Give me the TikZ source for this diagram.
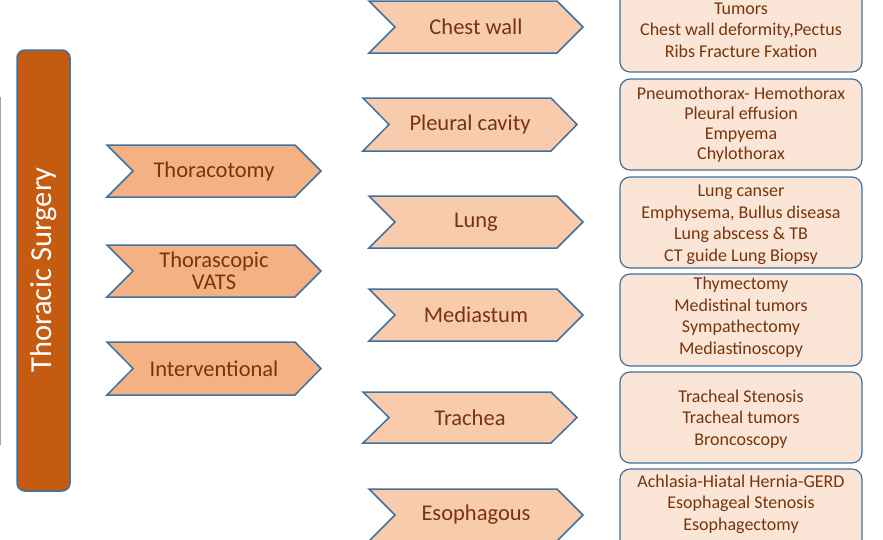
\documentclass[tikz,border=0pt]{standalone}
\usepackage{fontspec}
\setmainfont{Carlito}
\definecolor{bordc}{RGB}{65,113,156}
\definecolor{barc}{RGB}{197,90,17}
\definecolor{chevA}{RGB}{244,177,131}
\definecolor{chevB}{RGB}{248,203,173}
\definecolor{boxc}{RGB}{251,229,214}
\definecolor{txtc}{RGB}{120,52,12}
\newcommand{\chevshape}[6]{%
  % #1 name, #2 left x, #3 top y, #4 bottom y, #5 fill, #6 text
  \draw[chevline, fill=#5] (#2,#3) -- ({#2+188},#3) -- ({#2+214},{(#3+#4)/2}) -- ({#2+188},#4) -- (#2,#4) -- ({#2+26},{(#3+#4)/2}) -- cycle;
  \node[chevtext] (#1) at ({#2+107},{(#3+#4)/2}) {#6};}
\begin{document}
\begin{tikzpicture}[x=1pt,y=-1pt,
  chevline/.style={draw=bordc, line width=1.5pt, line join=miter},
  chevtext/.style={text=txtc, font=\fontsize{22.5}{23}\selectfont, align=center},
  listbox/.style={draw=bordc, line width=1.2pt, fill=boxc, rounded corners=10pt},
  listtext/.style={text=txtc, font=\fontsize{18}{21.5}\selectfont, align=center}]
\useasboundingbox (0,0) rectangle (883,539);
\draw[gray!70, line width=1pt] (0.5,97) -- (0.5,445);
% main bar
\draw[draw=bordc, line width=1.5pt, fill=barc, rounded corners=8pt] (17,50) rectangle (70,491);
\node[text=white, rotate=90, font=\fontsize{30.5}{32}\selectfont] (ts) at (43.5,270) {Thoracic Surgery};
% left chevrons
\chevshape{thc}{107}{145}{197}{chevA}{Thoracotomy}
\chevshape{vats}{107}{245}{297}{chevA}{Thorascopic\\[-1pt]VATS}
\chevshape{intv}{107}{342}{395}{chevA}{Interventional}
% middle chevrons
\chevshape{cw}{369}{1}{53}{chevB}{Chest wall}
\chevshape{pc}{363}{98}{151}{chevB}{Pleural cavity}
\chevshape{lung}{369}{196}{248}{chevB}{Lung}
\chevshape{med}{369}{289}{341}{chevB}{Mediastum}
\chevshape{tra}{363}{392}{443}{chevB}{Trachea}
\chevshape{eso}{369}{489}{541}{chevB}{Esophagous}
% right boxes
\draw[listbox] (620,-20) rectangle (862,72);
\node[listtext] (b1) at (741,30) {Tumors\\Chest wall deformity,Pectus\\Ribs Fracture Fxation};
\draw[listbox] (620,79) rectangle (862,170);
\node[listtext, font=\fontsize{18}{20}\selectfont] (b2) at (741,124.5) {Pneumothorax- Hemothorax\\Pleural effusion\\Empyema\\Chylothorax};
\draw[listbox] (620,177) rectangle (862,268);
\node[listtext] (b3) at (741,225) {Lung canser\\Emphysema, Bullus diseasa\\Lung abscess \& TB\\CT guide Lung Biopsy};
\draw[listbox] (620,274) rectangle (862,366);
\node[listtext] (b4) at (741,317) {Thymectomy\\Medistinal tumors\\Sympathectomy\\Mediastinoscopy};
\draw[listbox] (620,372) rectangle (862,463);
\node[listtext] (b5) at (741,419) {Tracheal Stenosis\\Tracheal tumors\\Broncoscopy};
\draw[listbox] (620,469) rectangle (862,560);
\node[listtext] (b6) at (741,504) {Achlasia-Hiatal Hernia-GERD\\Esophageal Stenosis\\Esophagectomy};
\end{tikzpicture}
\end{document}
